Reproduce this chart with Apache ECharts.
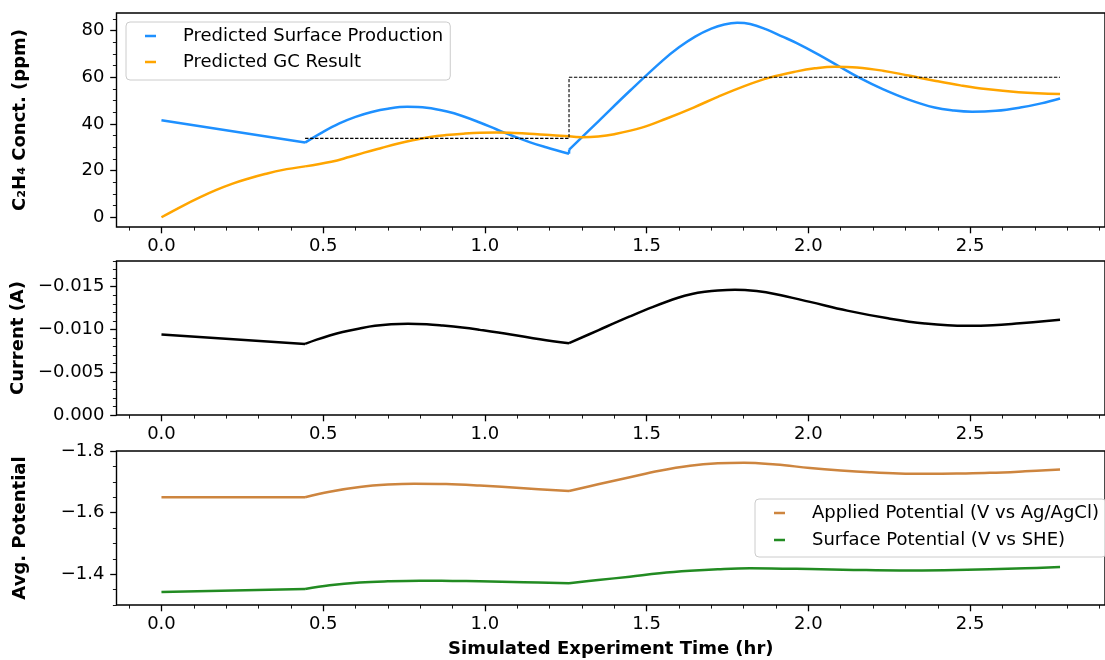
<!DOCTYPE html>
<html>
<head>
<meta charset="utf-8">
<title>Simulated experiment</title>
<script src="https://cdn.jsdelivr.net/npm/echarts@6/dist/echarts.min.js"></script>
<style>
  html, body { margin: 0; padding: 0; background: #ffffff; }
  #chart { width: 1105px; height: 660px; }
</style>
</head>
<body>
<div id="chart"></div>
<script>
// ---- data (time in hr) ----
const switchTimes = [0.444, 1.26];

const surfaceTime = [0, 0.444,
  0.5, 0.55, 0.6, 0.65, 0.7, 0.76, 0.82, 0.883, 0.93, 0.984, 1.035, 1.087, 1.14, 1.189, 1.26,
  1.2605, 1.35, 1.45, 1.55, 1.6, 1.65, 1.7, 1.74, 1.78, 1.82, 1.868, 1.92, 1.964, 2.03, 2.092,
  2.16, 2.23, 2.31, 2.39, 2.45, 2.506, 2.58, 2.655, 2.72, 2.778];
const surfaceProduction = [41.6, 32.0,
  36.6, 40.2, 43.0, 45.1, 46.5, 47.3, 46.9, 45.3, 43.4, 40.6, 37.7, 34.8, 32.1, 30.0, 27.2,
  29.0, 41.0, 54.4, 67.2, 72.8, 77.4, 80.8, 82.6, 83.3, 82.8, 80.6, 77.4, 74.6, 69.8, 64.9,
  59.6, 54.9, 50.4, 47.0, 45.7, 45.2, 45.6, 47.0, 48.8, 50.9];

const gcTime = [0, 0.066, 0.12, 0.168, 0.22, 0.27, 0.32, 0.372, 0.444,
  0.525, 0.58, 0.627, 0.68, 0.729, 0.78, 0.831, 0.88, 0.934, 0.985, 1.035, 1.09, 1.137, 1.2, 1.26,
  1.3, 1.35, 1.4, 1.485, 1.56, 1.645, 1.72, 1.804, 1.88, 1.964, 2.02, 2.081, 2.15, 2.23, 2.31,
  2.39, 2.47, 2.549, 2.65, 2.778];
const gcResult = [0, 4.9, 8.6, 11.6, 14.4, 16.6, 18.5, 20.2, 21.8,
  23.8, 25.8, 27.7, 29.7, 31.5, 33.1, 34.4, 35.2, 35.8, 36.2, 36.3, 36.1, 35.8, 35.2, 34.7,
  34.3, 34.6, 35.6, 38.4, 42.2, 47.0, 51.6, 56.3, 59.8, 62.5, 63.8, 64.5, 64.2, 62.8, 60.7,
  58.5, 56.5, 54.9, 53.6, 52.8];

const gcStepTime = [0.444, 1.26, 1.26, 2.778];
const gcStepValue = [33.8, 33.8, 60, 60];

const currentTime = [0, 0.444,
  0.48, 0.52, 0.56, 0.613, 0.66, 0.71, 0.762, 0.82, 0.87, 0.93, 0.984, 1.08, 1.17, 1.26,
  1.35, 1.448, 1.52, 1.597, 1.64, 1.68, 1.72, 1.773, 1.84, 1.9, 2.005, 2.12, 2.246, 2.36,
  2.487, 2.57, 2.654, 2.778];
const current = [-0.00940, -0.00831,
  -0.00881, -0.00930, -0.00971, -0.01012, -0.01042, -0.01060, -0.01066, -0.01060, -0.01045,
  -0.01022, -0.00995, -0.00942, -0.00886, -0.00839,
  -0.00990, -0.01152, -0.01264, -0.01370, -0.01414, -0.01440, -0.01456, -0.01464, -0.01448,
  -0.01412, -0.01322, -0.01220, -0.01130, -0.01070, -0.01042, -0.01048, -0.01072, -0.01112];

const appliedTime = [0, 0.444,
  0.52, 0.613, 0.7, 0.781, 0.88, 0.984, 1.12, 1.26,
  1.35, 1.448, 1.54, 1.634, 1.72, 1.801, 1.9, 2.005, 2.1, 2.19, 2.28, 2.375, 2.47, 2.561, 2.67, 2.778];
const appliedPotential = [-1.650, -1.650,
  -1.668, -1.683, -1.691, -1.694, -1.693, -1.688, -1.679, -1.670,
  -1.692, -1.715, -1.736, -1.752, -1.760, -1.762, -1.756, -1.745, -1.737, -1.731, -1.727, -1.726,
  -1.727, -1.729, -1.734, -1.740];

const surfPotTime = [0, 0.444,
  0.52, 0.613, 0.7, 0.799, 0.9, 0.984, 1.12, 1.26,
  1.35, 1.448, 1.54, 1.634, 1.72, 1.819, 1.92, 2.005, 2.14, 2.282, 2.42, 2.561, 2.67, 2.778];
const surfacePotential = [-1.342, -1.352,
  -1.364, -1.373, -1.377, -1.379, -1.378, -1.377, -1.374, -1.371,
  -1.381, -1.392, -1.403, -1.411, -1.416, -1.419, -1.418, -1.417, -1.414, -1.412, -1.413, -1.416,
  -1.419, -1.423];

// ---- tick labels ----
const xMajorTicks = [0, 0.5, 1.0, 1.5, 2.0, 2.5];
const concTicks = [0, 20, 40, 60, 80];
const currentTicks = [-0.015, -0.010, -0.005, 0];
const potentialTicks = [-1.8, -1.6, -1.4];

// ---- helpers ----
const FONT = 'DejaVu Sans';
const FS = 18;
const fmt = (v, d) => (Math.abs(v) < 1e-12 ? (0).toFixed(d) : v.toFixed(d)).replace('-', '\u2212');

function ticksBetween(lo, hi, step) {
  const out = [];
  const n0 = Math.ceil(lo / step - 1e-9), n1 = Math.floor(hi / step + 1e-9);
  for (let n = n0; n <= n1; n++) out.push(+(n * step).toFixed(6));
  return out;
}

// split a trace at the potential switch times (and at near-vertical jumps)
// so that the corners stay sharp when the pieces are smoothed
function segments(times, values) {
  const bounds = [-Infinity, ...switchTimes, Infinity];
  const segs = [];
  for (let i = 0; i < bounds.length - 1; i++) {
    const pts = [];
    times.forEach((t, k) => {
      if (t >= bounds[i] - 1e-9 && t <= bounds[i + 1] + 1e-9) pts.push([t, values[k]]);
    });
    let cur = [pts[0]];
    for (let k = 1; k < pts.length; k++) {
      if (pts[k][0] - pts[k - 1][0] < 0.002) {
        if (cur.length > 1) segs.push(cur);
        segs.push([pts[k - 1], pts[k]]);
        cur = [pts[k]];
      } else {
        cur.push(pts[k]);
      }
    }
    if (cur.length > 1) segs.push(cur);
  }
  return segs;
}

function traceSeries(name, times, values, color, g) {
  return segments(times, values).map(pts => ({
    type: 'line', name, data: pts,
    xAxisIndex: 2 * g, yAxisIndex: 2 * g,
    symbol: 'none', showSymbol: false, smooth: 0.4,
    lineStyle: { color, width: 2.5, join: 'round' }, itemStyle: { color },
    emphasis: { disabled: true }, silent: true
  }));
}

const xMin = -0.139, xMax = 2.917;
const panels = [
  { top: 13, height: 214, min: -4.17, max: 87.5, inverse: false, major: concTicks, minorStep: 5, dec: 0,
    name: 'C\u2082H\u2084 Conct. (ppm)' },
  { top: 261, height: 154, min: -0.018, max: 0, inverse: true, major: currentTicks, minorStep: 0.001, dec: 3,
    name: 'Current (A)' },
  { top: 451, height: 154, min: -1.8, max: -1.3, inverse: true, major: potentialTicks, minorStep: 0.05, dec: 1,
    name: 'Avg. Potential' }
];

const grid = [], xAxis = [], yAxis = [];
const labelStyle = { color: '#000', fontSize: FS, fontFamily: FONT };
const titleStyle = { color: '#000', fontSize: FS, fontWeight: 'bold', fontFamily: FONT };
const majorTick = { color: '#000', width: 1.3 };
const minorTick = { color: '#000', width: 0.9 };

panels.forEach((p, g) => {
  grid.push({ left: 116.5, width: 999, top: p.top, height: p.height, show: true,
    borderColor: '#000', borderWidth: 1.4, backgroundColor: 'transparent' });

  // major x axis
  xAxis.push({
    type: 'value', gridIndex: g, position: 'bottom', min: xMin, max: xMax,
    axisLine: { show: false, onZero: false }, splitLine: { show: false },
    axisTick: { show: true, length: 6.3, lineStyle: majorTick, customValues: xMajorTicks },
    axisLabel: { show: true, customValues: xMajorTicks, formatter: v => fmt(v, 1), margin: 10, ...labelStyle },
    name: g === 2 ? 'Simulated Experiment Time (hr)' : '',
    nameLocation: 'middle', nameGap: 35, nameTextStyle: titleStyle
  });
  // minor x ticks
  xAxis.push({
    type: 'value', gridIndex: g, position: 'bottom', min: xMin, max: xMax,
    axisLine: { show: false, onZero: false }, splitLine: { show: false }, axisLabel: { show: false },
    axisTick: { show: true, length: 3.6, lineStyle: minorTick, customValues: ticksBetween(xMin, xMax, 0.1) }
  });

  // major y axis
  yAxis.push({
    type: 'value', gridIndex: g, position: 'left', min: p.min, max: p.max, inverse: p.inverse,
    axisLine: { show: false, onZero: false }, splitLine: { show: false },
    axisTick: { show: true, length: 6.3, lineStyle: majorTick, customValues: p.major },
    axisLabel: { show: true, customValues: p.major, formatter: v => fmt(v, p.dec), margin: 12, ...labelStyle },
    name: p.name, nameLocation: 'middle', nameRotate: 90, nameGap: 87, nameTextStyle: titleStyle
  });
  // minor y ticks
  yAxis.push({
    type: 'value', gridIndex: g, position: 'left', min: p.min, max: p.max, inverse: p.inverse,
    axisLine: { show: false, onZero: false }, splitLine: { show: false }, axisLabel: { show: false },
    axisTick: { show: true, length: 3.6, lineStyle: minorTick, customValues: ticksBetween(p.min, p.max, p.minorStep) }
  });
});

const series = [
  ...traceSeries('Predicted Surface Production', surfaceTime, surfaceProduction, '#1E90FF', 0),
  ...traceSeries('Predicted GC Result', gcTime, gcResult, '#FFA500', 0),
  {
    type: 'line', name: 'gcStep', xAxisIndex: 0, yAxisIndex: 0, silent: true,
    data: gcStepTime.map((t, i) => [t, gcStepValue[i]]),
    symbol: 'none', showSymbol: false,
    lineStyle: { color: '#000', width: 1.1, type: [3.4, 1.6] }, itemStyle: { color: '#000' }
  },
  ...traceSeries('Current', currentTime, current, '#000000', 1),
  ...traceSeries('Applied Potential (V vs Ag/AgCl)', appliedTime, appliedPotential, '#CD853F', 2),
  ...traceSeries('Surface Potential (V vs SHE)', surfPotTime, surfacePotential, '#228B22', 2)
];

// short line handle followed by blank space before the label
const handleIcon = 'path://M0,0h11v2.4h-11z M32.9,0h0.1v0.1h-0.1z';
const legendBase = {
  orient: 'vertical', icon: handleIcon, itemWidth: 33, itemHeight: 2.4,
  itemStyle: { borderWidth: 0 },
  textStyle: { color: '#000', fontSize: FS, fontFamily: FONT, lineHeight: 18 },
  backgroundColor: 'rgba(255,255,255,0.8)', borderColor: '#cccccc', borderWidth: 1, borderRadius: 4,
  selectedMode: false, z: 10
};

const chart = echarts.init(document.getElementById('chart'), null, { renderer: 'canvas' });
chart.setOption({
  animation: false,
  backgroundColor: '#ffffff',
  grid, xAxis, yAxis, series,
  legend: [
    { ...legendBase, left: 126, top: 22, itemGap: 8, padding: [5, 7, 9, 19],
      data: ['Predicted Surface Production', 'Predicted GC Result'] },
    { ...legendBase, left: 755, top: 499, itemGap: 9, padding: [5, 7, 8, 19],
      data: ['Applied Potential (V vs Ag/AgCl)', 'Surface Potential (V vs SHE)'] }
  ]
});
</script>
</body>
</html>
